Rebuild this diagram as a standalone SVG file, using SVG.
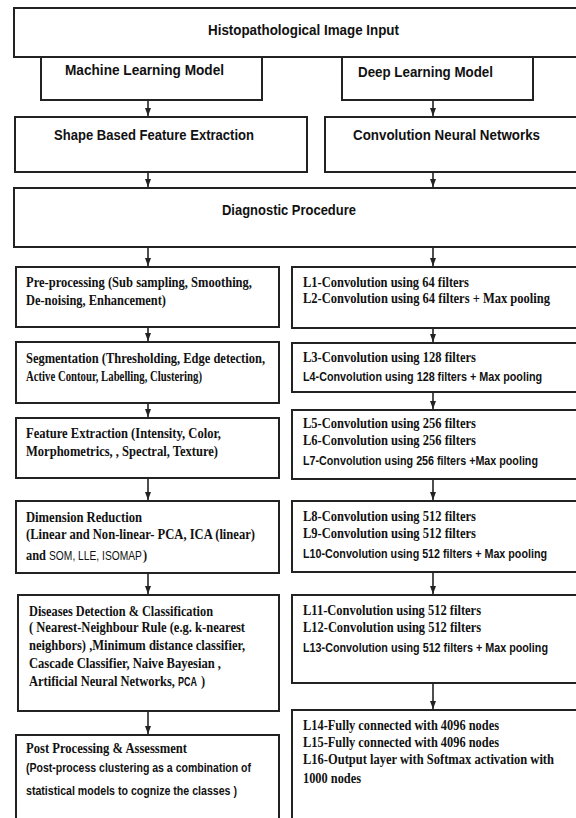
<svg xmlns="http://www.w3.org/2000/svg" width="576" height="818" viewBox="0 0 576 818">
<style>
.box{fill:#fff;stroke:#222;stroke-width:2}
.h{font-family:"Liberation Sans",Arial,sans-serif;font-weight:bold;font-size:15px;fill:#111}
.s{font-family:"Liberation Serif","Times New Roman",serif;font-weight:bold;font-size:14px;fill:#111}
.c{font-family:"Liberation Sans",Arial,sans-serif;font-weight:bold;font-size:13px;fill:#111}
.cn{font-family:"Liberation Sans",Arial,sans-serif;font-size:12px;fill:#111}
.conn line{stroke:#222;stroke-width:1.6}
</style>
<defs>
<marker id="ah" viewBox="0 0 8 6" refX="8" refY="3" markerWidth="8" markerHeight="6" markerUnits="userSpaceOnUse" orient="auto">
<path d="M0,0 L8,3 L0,6 z" fill="#222"/>
</marker>
</defs>
<rect width="576" height="818" fill="#fff"/>

<g id="input"><rect class="box" x="14" y="8" width="570" height="49"/>
<text class="h" transform="translate(208,35) scale(0.85,1)" textLength="224.7" lengthAdjust="spacingAndGlyphs">Histopathological Image Input</text></g>
<g id="ml"><rect class="box" x="41" y="57" width="221" height="43"/>
<text class="h" transform="translate(65,75) scale(0.85,1)" textLength="187.1" lengthAdjust="spacingAndGlyphs">Machine Learning Model</text></g>
<g id="dl"><rect class="box" x="342" y="57" width="191" height="43"/>
<text class="h" transform="translate(358,77) scale(0.85,1)" textLength="158.8" lengthAdjust="spacingAndGlyphs">Deep Learning Model</text></g>
<g id="shape"><rect class="box" x="15" y="117" width="292" height="55"/>
<text class="h" transform="translate(54,140) scale(0.85,1)" textLength="235.3" lengthAdjust="spacingAndGlyphs">Shape Based Feature Extraction</text></g>
<g id="cnn"><rect class="box" x="325" y="117" width="260" height="55"/>
<text class="h" transform="translate(353,140) scale(0.85,1)" textLength="220" lengthAdjust="spacingAndGlyphs">Convolution Neural Networks</text></g>
<g id="diag"><rect class="box" x="14" y="188" width="570" height="59"/>
<text class="h" transform="translate(222,215) scale(0.85,1)" textLength="157.6" lengthAdjust="spacingAndGlyphs">Diagnostic Procedure</text></g>

<g id="pre"><rect class="box" x="16" y="267" width="263" height="60"/>
<text class="s" transform="translate(26,287) scale(0.88,1)" textLength="256.8" lengthAdjust="spacingAndGlyphs">Pre-processing (Sub sampling, Smoothing,</text>
<text class="s" transform="translate(26,305) scale(0.88,1)" textLength="159.1" lengthAdjust="spacingAndGlyphs">De-noising, Enhancement)</text></g>
<g id="seg"><rect class="box" x="16" y="342" width="263" height="61"/>
<text class="s" transform="translate(26,363) scale(0.88,1)" textLength="271.6" lengthAdjust="spacingAndGlyphs">Segmentation (Thresholding, Edge detection,</text>
<text class="s" transform="translate(26,381) scale(0.88,1)" textLength="200" lengthAdjust="spacingAndGlyphs">Active Contour, Labelling, Clustering)</text></g>
<g id="feat"><rect class="box" x="16" y="418" width="263" height="60"/>
<text class="s" transform="translate(26,438) scale(0.88,1)" textLength="221.6" lengthAdjust="spacingAndGlyphs">Feature Extraction (Intensity, Color,</text>
<text class="s" transform="translate(26,456) scale(0.88,1)" textLength="218.2" lengthAdjust="spacingAndGlyphs">Morphometrics, , Spectral, Texture)</text></g>
<g id="dim"><rect class="box" x="16" y="501" width="263" height="72"/>
<text class="s" transform="translate(26,522) scale(0.88,1)" textLength="131.8" lengthAdjust="spacingAndGlyphs">Dimension Reduction</text>
<text class="s" transform="translate(26,539) scale(0.88,1)" textLength="260.2" lengthAdjust="spacingAndGlyphs">(Linear and Non-linear- PCA, ICA (linear)</text>
<text class="s" transform="translate(26,560) scale(0.88,1)" textLength="22.7" lengthAdjust="spacingAndGlyphs">and</text>
<text class="cn" transform="translate(49,560) scale(0.86,1)" textLength="108.1" lengthAdjust="spacingAndGlyphs">SOM, LLE, ISOMAP</text>
<text class="s" transform="translate(143,560) scale(0.88,1)">)</text></g>
<g id="dis"><rect class="box" x="18" y="595" width="261" height="116"/>
<text class="s" transform="translate(29,616) scale(0.88,1)" textLength="209.1" lengthAdjust="spacingAndGlyphs">Diseases Detection &amp; Classification</text>
<text class="s" transform="translate(29,632) scale(0.88,1)" textLength="245.5" lengthAdjust="spacingAndGlyphs">( Nearest-Neighbour Rule (e.g. k-nearest</text>
<text class="s" transform="translate(29,650) scale(0.88,1)" textLength="245.5" lengthAdjust="spacingAndGlyphs">neighbors) ,Minimum distance classifier,</text>
<text class="s" transform="translate(29,668) scale(0.88,1)" textLength="218.2" lengthAdjust="spacingAndGlyphs">Cascade Classifier, Naive Bayesian ,</text>
<text class="s" transform="translate(29,686) scale(0.88,1)" textLength="165.9" lengthAdjust="spacingAndGlyphs">Artificial Neural Networks,</text>
<text class="c" transform="translate(178,686) scale(0.83,1)" font-size="11" textLength="22.9" lengthAdjust="spacingAndGlyphs">PCA</text>
<text class="s" transform="translate(201,686) scale(0.88,1)">)</text></g>
<g id="post"><rect class="box" x="16" y="735" width="263" height="100"/>
<text class="s" transform="translate(26,753) scale(0.88,1)" textLength="183" lengthAdjust="spacingAndGlyphs">Post Processing &amp; Assessment</text>
<text class="c" transform="translate(26,772) scale(0.83,1)" textLength="271.1" lengthAdjust="spacingAndGlyphs">(Post-process clustering as a combination of</text>
<text class="c" transform="translate(26,795) scale(0.83,1)" textLength="254.2" lengthAdjust="spacingAndGlyphs">statistical models to cognize the classes )</text></g>

<g id="l1"><rect class="box" x="292" y="267" width="292" height="61"/>
<text class="s" transform="translate(303,287) scale(0.88,1)" textLength="188.6" lengthAdjust="spacingAndGlyphs">L1-Convolution using 64 filters</text>
<text class="s" transform="translate(303,303) scale(0.88,1)" textLength="280.7" lengthAdjust="spacingAndGlyphs">L2-Convolution using 64 filters + Max pooling</text></g>
<g id="l3"><rect class="box" x="292" y="343" width="292" height="49"/>
<text class="s" transform="translate(303,362) scale(0.88,1)" textLength="196.6" lengthAdjust="spacingAndGlyphs">L3-Convolution using 128 filters</text>
<text class="c" transform="translate(303,381) scale(0.83,1)" textLength="288" lengthAdjust="spacingAndGlyphs">L4-Convolution using 128 filters + Max pooling</text></g>
<g id="l5"><rect class="box" x="292" y="410" width="292" height="69"/>
<text class="s" transform="translate(303,428) scale(0.88,1)" textLength="196.6" lengthAdjust="spacingAndGlyphs">L5-Convolution using 256 filters</text>
<text class="s" transform="translate(303,445) scale(0.88,1)" textLength="196.6" lengthAdjust="spacingAndGlyphs">L6-Convolution using 256 filters</text>
<text class="c" transform="translate(303,465) scale(0.83,1)" textLength="283.1" lengthAdjust="spacingAndGlyphs">L7-Convolution using 256 filters +Max pooling</text></g>
<g id="l8"><rect class="box" x="292" y="501" width="292" height="71"/>
<text class="s" transform="translate(303,521) scale(0.88,1)" textLength="196.6" lengthAdjust="spacingAndGlyphs">L8-Convolution using 512 filters</text>
<text class="s" transform="translate(303,538) scale(0.88,1)" textLength="196.6" lengthAdjust="spacingAndGlyphs">L9-Convolution using 512 filters</text>
<text class="c" transform="translate(303,558) scale(0.83,1)" textLength="294" lengthAdjust="spacingAndGlyphs">L10-Convolution using 512 filters + Max pooling</text></g>
<g id="l11"><rect class="box" x="292" y="595" width="292" height="88"/>
<text class="s" transform="translate(303,615) scale(0.88,1)" textLength="202.3" lengthAdjust="spacingAndGlyphs">L11-Convolution using 512 filters</text>
<text class="s" transform="translate(303,632) scale(0.88,1)" textLength="202.3" lengthAdjust="spacingAndGlyphs">L12-Convolution using 512 filters</text>
<text class="c" transform="translate(303,652) scale(0.83,1)" textLength="295.2" lengthAdjust="spacingAndGlyphs">L13-Convolution using 512 filters + Max pooling</text></g>
<g id="l14"><rect class="box" x="292" y="710" width="292" height="120"/>
<text class="s" transform="translate(303,730) scale(0.88,1)" textLength="222.7" lengthAdjust="spacingAndGlyphs">L14-Fully connected with 4096 nodes</text>
<text class="s" transform="translate(303,747) scale(0.88,1)" textLength="222.7" lengthAdjust="spacingAndGlyphs">L15-Fully connected with 4096 nodes</text>
<text class="s" transform="translate(303,764) scale(0.88,1)" textLength="285.2" lengthAdjust="spacingAndGlyphs">L16-Output layer with Softmax activation with</text>
<text class="s" transform="translate(303,783) scale(0.88,1)" textLength="65.9" lengthAdjust="spacingAndGlyphs">1000 nodes</text></g>

<g id="connectors" class="conn">
<line x1="148" y1="100" x2="148" y2="116" marker-end="url(#ah)"/>
<line x1="433" y1="100" x2="433" y2="116" marker-end="url(#ah)"/>
<line x1="148" y1="172" x2="148" y2="187" marker-end="url(#ah)"/>
<line x1="433" y1="172" x2="433" y2="187" marker-end="url(#ah)"/>
<line x1="148" y1="247" x2="148" y2="266" marker-end="url(#ah)"/>
<line x1="433" y1="247" x2="433" y2="266" marker-end="url(#ah)"/>
<line x1="148" y1="327" x2="148" y2="341" marker-end="url(#ah)"/>
<line x1="148" y1="403" x2="148" y2="417" marker-end="url(#ah)"/>
<line x1="148" y1="478" x2="148" y2="500" marker-end="url(#ah)"/>
<line x1="148" y1="573" x2="148" y2="594" marker-end="url(#ah)"/>
<line x1="148" y1="711" x2="148" y2="734" marker-end="url(#ah)"/>
<line x1="433" y1="328" x2="433" y2="342" marker-end="url(#ah)"/>
<line x1="433" y1="392" x2="433" y2="409" marker-end="url(#ah)"/>
<line x1="433" y1="479" x2="433" y2="500" marker-end="url(#ah)"/>
<line x1="433" y1="572" x2="433" y2="594" marker-end="url(#ah)"/>
<line x1="433" y1="683" x2="433" y2="709" marker-end="url(#ah)"/>
</g>
</svg>
